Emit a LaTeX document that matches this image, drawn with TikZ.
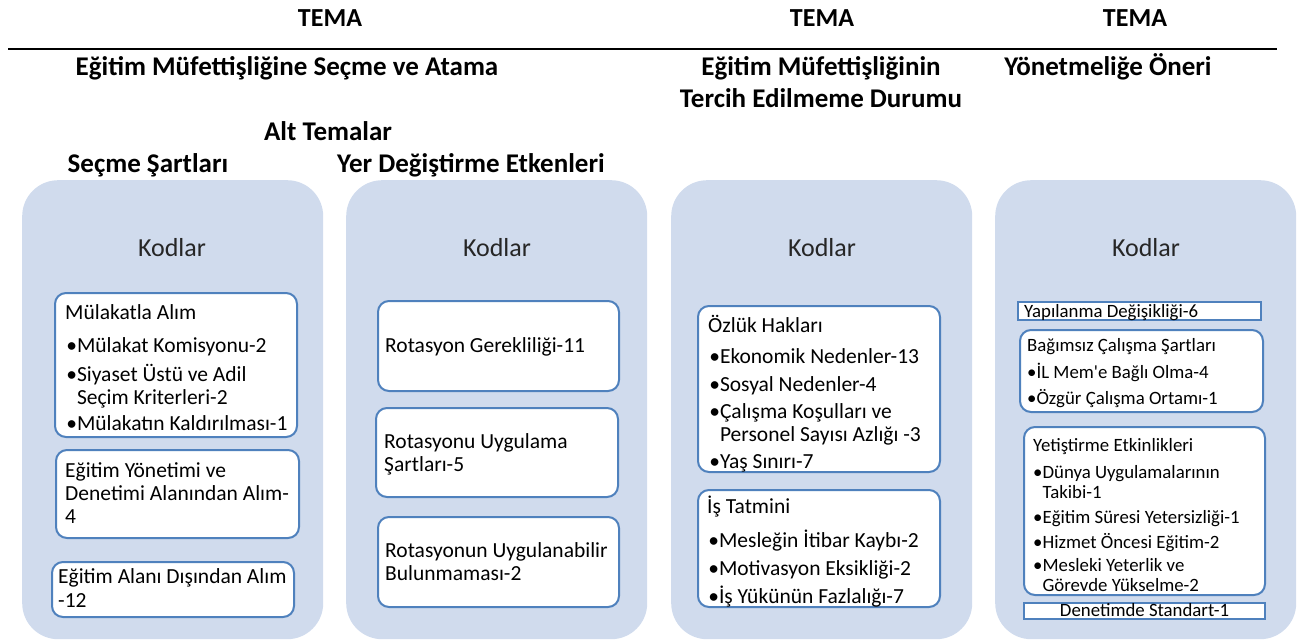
\documentclass[tikz,border=0pt]{standalone}
\usepackage{fontspec}
\setmainfont{Carlito}
\usetikzlibrary{positioning}
\definecolor{panelblue}{RGB}{208,219,237}
\definecolor{edgeblue}{RGB}{79,129,189}
\tikzset{
    panel/.style = {rectangle, rounded corners=36pt, fill=panelblue, draw=none, minimum width=301pt, minimum height=459pt, anchor=north west},
    cellbox/.style = {rectangle, rounded corners=11pt, draw=edgeblue, line width=2pt, fill=white, inner sep=0pt},
    strip/.style = {rectangle, draw=edgeblue, line width=2pt, fill=white, inner sep=0pt},
    celltext/.style = {anchor=base west, inner sep=0pt, font=\fontsize{21.5}{23}\selectfont},
    celltexts/.style = {celltext, font=\fontsize{18.8}{20.5}\selectfont},
    temanode/.style = {anchor=base, font=\fontsize{26}{30}\selectfont\bfseries},
    subnode/.style = {anchor=base, font=\fontsize{27}{31}\selectfont\bfseries},
    kodnode/.style = {anchor=base, text=black!85, font=\fontsize{26}{30}\selectfont}
}
\newcommand{\bl}{\makebox[0.55em][l]{\kern0.05em\textbullet}}
\newcommand{\bls}{\makebox[0.5em][l]{\textbullet}}
\newcommand{\hg}{\hspace*{0.55em}}
\newcommand{\hgs}{\hspace*{0.5em}}
\newcommand{\cellrows}[1]{\begin{tabular}[t]{@{}l@{}}#1\end{tabular}}

\begin{document}
\begin{tikzpicture}[x=1pt,y=-1pt]
\useasboundingbox (0,0) rectangle (1298,642);
%
% headings
\node[temanode] at (330,27) (t1) {TEMA};
\node[temanode] at (822,27) (t2) {TEMA};
\node[temanode] at (1135,27) (t3) {TEMA};
\coordinate (ruleL) at (8,49);
\coordinate (ruleR) at (1277,49);
\draw[line width=2pt] (ruleL) -- (ruleR);
\node[subnode] at (287,76) (s1) {Eğitim Müfettişliğine Seçme ve Atama};
\node[subnode] at (821,76) (s2a) {Eğitim Müfettişliğinin};
\node[subnode] at (821,107) (s2b) {Tercih Edilmeme Durumu};
\node[subnode] at (1108,76) (s3) {Yönetmeliğe Öneri};
\node[subnode] at (328,140) (alt) {Alt Temalar};
\node[subnode] at (148,172) (a1) {Seçme Şartları};
\node[subnode] at (471,172) (a2) {Yer Değiştirme Etkenleri};
%
% panels
\node[panel] at (22,180) (p1) {};
\node[panel] at (346,180) (p2) {};
\node[panel] at (671,180) (p3) {};
\node[panel] at (995,180) (p4) {};
\node[kodnode] at (172,256) (k1) {Kodlar};
\node[kodnode] at (497,256) (k2) {Kodlar};
\node[kodnode] at (822,256) (k3) {Kodlar};
\node[kodnode] at (1146,256) (k4) {Kodlar};
%
% Secme Sartlari
\node[cellbox, minimum width=242, minimum height=144] at (176,365) (mulakat) {};
\node[celltext] at (65,319) (mulakatT)
  {\cellrows{Mülakatla Alım\\[10pt]\bl Mülakat Komisyonu-2\\[5pt]\bl Siyaset Üstü ve Adil\\\hg Seçim Kriterleri-2\\[3pt]\bl Mülakatın Kaldırılması-1}};
\node[cellbox, minimum width=243, minimum height=88] at (177.5,494) (yonetim) {};
\node[celltext] at (65,477) (yonetimT)
  {\cellrows{Eğitim Yönetimi ve\\Denetimi Alanından Alım-\\4}};
\node[cellbox, minimum width=242, minimum height=55] at (173,589.5) (disinda) {};
\node[celltext] at (58,583) (disindaT)
  {\cellrows{Eğitim Alanı Dışından Alım\\[1pt]-12}};
%
% Yer Degistirme Etkenleri
\node[cellbox, minimum width=241, minimum height=90] at (498.5,346) (rot1) {};
\node[celltext] at (385,352) (rot1T) {Rotasyon Gerekliliği-11};
\node[cellbox, minimum width=242, minimum height=89] at (497,452.5) (rot2) {};
\node[celltext] at (384,448) (rot2T) {\cellrows{Rotasyonu Uygulama\\Şartları-5}};
\node[cellbox, minimum width=241, minimum height=90] at (498.5,562) (rot3) {};
\node[celltext] at (385,557) (rot3T) {\cellrows{Rotasyonun Uygulanabilir\\Bulunmaması-2}};
%
% Tercih Edilmeme
\node[cellbox, minimum width=242, minimum height=166] at (819,389) (ozluk) {};
\node[celltext] at (708,332) (ozlukT)
  {\cellrows{Özlük Hakları\\[8pt]\bl Ekonomik Nedenler-13\\[5pt]\bl Sosyal Nedenler-4\\[4pt]\bl Çalışma Koşulları ve\\\hg Personel Sayısı Azlığı -3\\[4pt]\bl Yaş Sınırı-7}};
\node[cellbox, minimum width=242, minimum height=117] at (819,548.5) (tatmin) {};
\node[celltext] at (707,513) (tatminT)
  {\cellrows{İş Tatmini\\[10pt]\bl Mesleğin İtibar Kaybı-2\\[5pt]\bl Motivasyon Eksikliği-2\\[4pt]\bl İş Yükünün Fazlalığı-7}};
%
% Yonetmelige Oneri
\node[strip, minimum width=243, minimum height=18] at (1139.5,311) (yapi) {};
\node[celltexts] at (1024,317) (yapiT) {Yapılanma Değişikliği-6};
\node[cellbox, minimum width=243, minimum height=82] at (1141.5,371) (bagimsiz) {};
\node[celltexts] at (1027,351) (bagimsizT)
  {\cellrows{Bağımsız Çalışma Şartları\\[6.5pt]\bls İL Mem\textquotesingle e Bağlı Olma-4\\[4.5pt]\bls Özgür Çalışma Ortamı-1}};
\node[cellbox, minimum width=241, minimum height=168] at (1144.5,511) (yetis) {};
\node[celltexts] at (1033,451) (yetisT)
  {\cellrows{Yetiştirme Etkinlikleri\\[6.5pt]\bls Dünya Uygulamalarının\\\hgs Takibi-1\\[4.5pt]\bls Eğitim Süresi Yetersizliği-1\\[3.5pt]\bls Hizmet Öncesi Eğitim-2\\[2.5pt]\bls Mesleki Yeterlik ve\\\hgs Görevde Yükselme-2}};
\node[strip, minimum width=241, minimum height=16] at (1144.5,611) (denetim) {};
\node[celltexts, anchor=base] at (1144.5,616) (denetimT) {Denetimde Standart-1};
\end{tikzpicture}
\end{document}
